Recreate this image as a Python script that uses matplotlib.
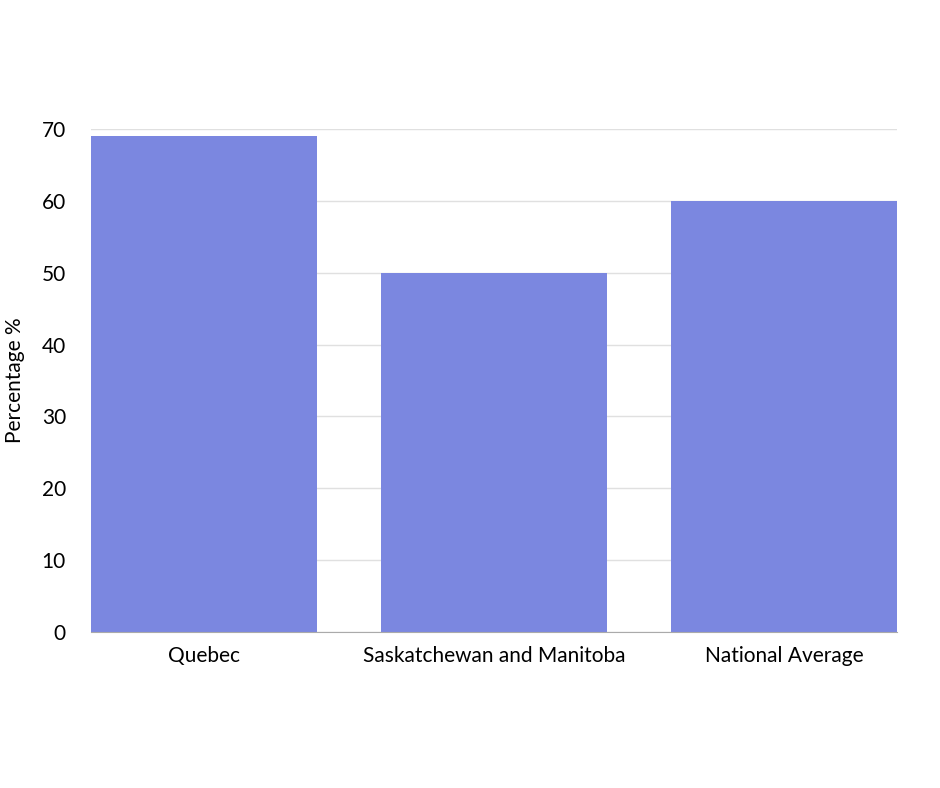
import matplotlib
matplotlib.use("Agg")
import matplotlib.pyplot as plt
import numpy as np

categories = ["Quebec", "Saskatchewan and Manitoba", "National Average"]
values = [69, 50, 60]
yticks = [0, 10, 20, 30, 40, 50, 60, 70]

plt.rcParams['font.family'] = ['Lato', 'DejaVu Sans']
fig = plt.figure(figsize=(9.4, 7.88), dpi=100)
ax = fig.add_axes([91/940, (788-632)/788, (897-91)/940, (632-129)/788])
x = np.arange(len(categories))
ax.bar(x, values, width=226/290, color="#7b87e0", zorder=2)
ax.set_xlim(-0.5*226/290, 2+0.5*226/290)
ax.set_ylim(0, 70)
ax.set_yticks(yticks)
ax.set_xticks(x)
ax.set_xticklabels(categories, fontsize=15)
ax.tick_params(axis='y', labelsize=15, length=0, pad=18)
ax.tick_params(axis='x', length=0, pad=10)
ax.grid(axis='y', color="#e0e0e0", linewidth=1, zorder=0)
for s in ["top", "right", "left"]:
    ax.spines[s].set_visible(False)
ax.spines["bottom"].set_color("#aaaaaa")
ax.set_ylabel("Percentage %", fontsize=15, labelpad=12)
fig.savefig("out.png", dpi=100)
